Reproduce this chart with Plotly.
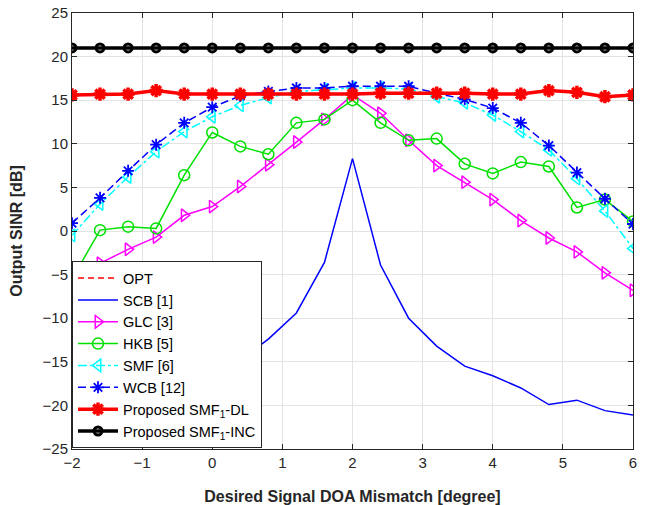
import plotly.graph_objects as go

# DOA mismatch grid (degrees)
mismatch = [-2, -1.6, -1.2, -0.8, -0.4, 0, 0.4, 0.8, 1.2, 1.6, 2,
            2.4, 2.8, 3.2, 3.6, 4, 4.4, 4.8, 5.2, 5.6, 6]

# Output SINR (dB) for each beamformer
sinr_opt = [21.0] * 21
sinr_scb = [-20.9, -20.3, -19.5, -18.8, -17.6, -16.3, -14.8, -12.4, -9.4, -3.6, 8.3,
            -3.9, -10.0, -13.2, -15.5, -16.6, -18.0, -19.9, -19.4, -20.6, -21.1]
sinr_glc = [-7.3, -3.7, -2.1, -0.7, 1.8, 2.8, 5.1, 7.6, 10.2, 12.8, 15.6,
            13.5, 10.4, 7.5, 5.6, 3.6, 1.2, -0.8, -2.4, -4.8, -6.8]
sinr_hkb = [-5.5, 0.1, 0.5, 0.3, 6.4, 11.3, 9.7, 8.8, 12.4, 12.8, 15.0,
            12.4, 10.4, 10.6, 7.7, 6.6, 7.9, 7.4, 2.7, 3.6, 1.1]
sinr_smf = [-0.5, 3.1, 6.2, 9.1, 11.4, 13.1, 14.4, 15.3, 16.0, 16.2, 16.4,
            16.4, 16.3, 15.4, 14.7, 13.3, 11.4, 9.3, 6.0, 2.3, -2.0]
sinr_wcb = [0.9, 3.8, 6.9, 9.9, 12.4, 14.2, 15.5, 16.0, 16.4, 16.4, 16.6,
            16.6, 16.6, 15.8, 15.1, 14.1, 12.4, 9.8, 6.7, 3.7, 0.8]
sinr_dl = [15.6, 15.7, 15.7, 16.1, 15.7, 15.7, 15.7, 15.7, 15.7, 15.7, 15.7,
           15.8, 15.8, 15.8, 15.8, 15.7, 15.7, 16.1, 15.9, 15.4, 15.6]
sinr_inc = [21.0] * 21

series = [
    ("OPT", sinr_opt, dict(color="#ff0000", width=1.5, dash="6px,4px"), None),
    ("SCB [1]", sinr_scb, dict(color="#0000ff", width=1.5), None),
    ("GLC [3]", sinr_glc, dict(color="#ff00ff", width=1.5),
     dict(symbol="triangle-right-open", size=11, color="#ff00ff", line=dict(width=1.5))),
    ("HKB [5]", sinr_hkb, dict(color="#00e000", width=1.5),
     dict(symbol="circle-open", size=11, color="#00e000", line=dict(width=1.5))),
    ("SMF [6]", sinr_smf, dict(color="#00ffff", width=1.5, dash="dashdot"),
     dict(symbol="triangle-left-open", size=11, color="#00ffff", line=dict(width=1.5))),
    ("WCB [12]", sinr_wcb, dict(color="#0000ff", width=1.5, dash="8px,4px"),
     dict(symbol="asterisk-open", size=10, color="#0000ff", line=dict(width=1.8))),
    ("Proposed SMF<sub>1</sub>-DL", sinr_dl, dict(color="#ff0000", width=3.5),
     dict(symbol="asterisk-open", size=11, color="#ff0000", line=dict(width=3.5))),
    ("Proposed SMF<sub>1</sub>-INC", sinr_inc, dict(color="#000000", width=3.5),
     dict(symbol="circle-open", size=8, color="#000000", line=dict(width=3))),
]

fig = go.Figure()
for i, (name, vals, line, marker) in enumerate(series):
    fig.add_trace(go.Scatter(
        x=mismatch, y=vals, name=name,
        mode="lines+markers" if marker else "lines",
        line=line, marker=marker, legendgroup=f"g{i}",
    ))

axis_common = dict(
    showline=True, linecolor="#262626", linewidth=1, mirror="ticks",
    ticks="inside", ticklen=5, tickcolor="#262626",
    showgrid=True, gridcolor="#e3e3e3", gridwidth=1, zeroline=False,
    automargin=False,
    tickfont=dict(family="Liberation Sans, Arial, sans-serif", size=15, color="#262626"),
)

fig.update_xaxes(range=[-2, 6], dtick=1, tick0=-2,
                 title=dict(text="<b>Desired Signal DOA Mismatch [degree]</b>",
                            font=dict(family="Liberation Sans, Arial, sans-serif", size=16, color="#262626"),
                            standoff=22),
                 **axis_common)
fig.update_yaxes(range=[-25, 25], dtick=5, tick0=-25,
                 title=dict(text="<b>Output SINR [dB]</b>",
                            font=dict(family="Liberation Sans, Arial, sans-serif", size=16, color="#262626"),
                            standoff=15),
                 **axis_common)

fig.update_layout(
    width=652, height=505,
    margin=dict(l=72, r=19, t=13, b=56),
    plot_bgcolor="white", paper_bgcolor="white",
    legend=dict(
        x=0, y=0.002, xanchor="left", yanchor="bottom",
        bgcolor="white", bordercolor="#262626", borderwidth=1,
        font=dict(family="Liberation Sans, Arial, sans-serif", size=14.5, color="#000000"),
        tracegroupgap=0, itemwidth=40,
    ),
)

fig.write_html("out.html")
